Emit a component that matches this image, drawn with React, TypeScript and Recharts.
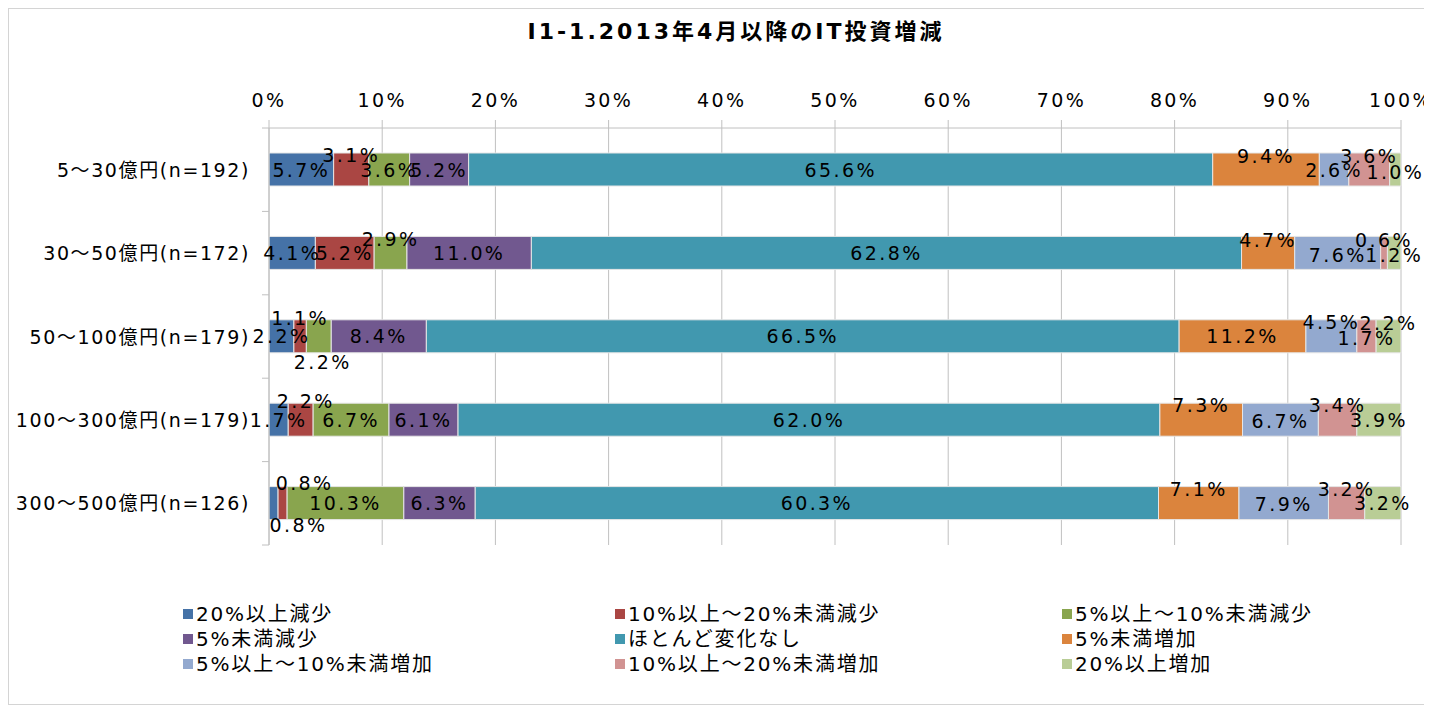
import React from 'react';
import { BarChart, Bar, XAxis, YAxis, CartesianGrid, LabelList, Legend } from 'recharts';

const categories = [
  '5〜30億円(n=192)',
  '30〜50億円(n=172)',
  '50〜100億円(n=179)',
  '100〜300億円(n=179)',
  '300〜500億円(n=126)',
];

const seriesNames = [
  '20%以上減少',
  '10%以上〜20%未満減少',
  '5%以上〜10%未満減少',
  '5%未満減少',
  'ほとんど変化なし',
  '5%未満増加',
  '5%以上〜10%未満増加',
  '10%以上〜20%未満増加',
  '20%以上増加',
];

const dec20 = [5.7, 4.1, 2.2, 1.7, 0.8];
const dec10to20 = [3.1, 5.2, 1.1, 2.2, 0.8];
const dec5to10 = [3.6, 2.9, 2.2, 6.7, 10.3];
const decUnder5 = [5.2, 11.0, 8.4, 6.1, 6.3];
const noChange = [65.6, 62.8, 66.5, 62.0, 60.3];
const incUnder5 = [9.4, 4.7, 11.2, 7.3, 7.1];
const inc5to10 = [2.6, 7.6, 4.5, 6.7, 7.9];
const inc10to20 = [3.6, 0.6, 1.7, 3.4, 3.2];
const inc20 = [1.0, 1.2, 2.2, 3.9, 3.2];

const xTicks = [0, 0.1, 0.2, 0.3, 0.4, 0.5, 0.6, 0.7, 0.8, 0.9, 1.0];

const seriesValues = [dec20, dec10to20, dec5to10, decUnder5, noChange, incUnder5, inc5to10, inc10to20, inc20];
const seriesKeys = ['s0', 's1', 's2', 's3', 's4', 's5', 's6', 's7', 's8'];

const colors = ['#4572A7', '#AA4643', '#89A54E', '#71588F', '#4198AF', '#DB843D', '#93A9CF', '#D19392', '#B9CD96'];

// label placement tweaks (layout only): vertical/horizontal offsets per series/row
const LABEL_DY = [
  [0, 0, 0, 0, 22],
  [-15, 0, -18, -19, -20],
  [0, -14, 26, 0, 0],
  [0, 0, 0, 0, 0],
  [0, 0, 0, 0, 0],
  [-14, -13, 0, -15, -14],
  [0, 2, -14, 1, 1],
  [-14, -13, 2, -15, -14],
  [2, 2, -13, 0, 0],
];
const LABEL_DX = [
  [0, 0, 0, 0, 25],
  [0, 0, 0, 5, 22],
  [0, 0, 4, 0, 0],
  [0, 0, 0, 0, 0],
  [0, 0, 0, 0, 0],
  [0, 0, 0, 0, 0],
  [0, 0, 0, 0, 0],
  [0, 0, 0, 0, 0],
  [0, 0, 0, 0, 0],
];

const data = categories.map((name, i) => {
  const row: Record<string, any> = { name };
  seriesKeys.forEach((k, si) => {
    row[k] = seriesValues[si][i];
  });
  return row;
});

const FONT = "'DejaVu Sans', 'Noto Sans CJK JP', sans-serif";
const W = 1424;
const H = 697;
const MARGIN = { top: 90, right: 31, bottom: 160, left: 21 };
const Y_WIDTH = 240;
const Y_TICK_SIZE = 7;
const Y_TICK_MARGIN = 12;
const GRID = '#c0c0c0';

const XTick = (props: any) => {
  const { x, y, payload } = props;
  return (
    <text x={x} y={y} textAnchor="middle" fontSize={19} fontFamily={FONT} fill="#000" letterSpacing={2.4}>
      {Math.round(payload.value * 100) + '%'}
    </text>
  );
};

const YTick = (props: any) => {
  const { x, y, payload, index } = props;
  const axisX = x + Y_TICK_SIZE + Y_TICK_MARGIN;
  const plotH = H - MARGIN.top - 30 - MARGIN.bottom;
  const half = payload && typeof payload.offset === 'number' && payload.offset > 0 ? payload.offset : plotH / categories.length / 2;
  return (
    <g>
      <line x1={axisX - Y_TICK_SIZE} x2={axisX} y1={y - half} y2={y - half} stroke={GRID} strokeWidth={1} />
      {index === categories.length - 1 && (
        <line x1={axisX - Y_TICK_SIZE} x2={axisX} y1={y + half} y2={y + half} stroke={GRID} strokeWidth={1} />
      )}
      <text x={x} y={y} textAnchor="end" dominantBaseline="central" fontSize={19} fontFamily={FONT} fill="#000" letterSpacing={1.6}>
        {payload.value}
      </text>
    </g>
  );
};

const makeLabel = (si: number) => (props: any) => {
  const { x, y, width, height, value, index } = props;
  if (value == null) return null;
  const cx = Number(x) + Number(width) / 2 + (LABEL_DX[si][index] || 0);
  const cy = Number(y) + Number(height) / 2 + (LABEL_DY[si][index] || 0);
  return (
    <text x={cx} y={cy} textAnchor="middle" dominantBaseline="central" fontSize={19} fontFamily={FONT} fill="#000" letterSpacing={2.4}>
      {Number(value).toFixed(1) + '%'}
    </text>
  );
};

const legendCols = [175, 607, 1054];
const legendRows = [596, 621, 646];

const renderLegend = () => (
  <div style={{ position: 'relative', width: 0, height: 0 }}>
    {seriesNames.map((n, i) => (
      <div
        key={n}
        style={{
          position: 'absolute',
          left: legendCols[i % 3],
          top: legendRows[Math.floor(i / 3)],
          display: 'flex',
          alignItems: 'center',
          whiteSpace: 'nowrap',
          fontFamily: FONT,
          fontSize: 20,
          letterSpacing: 1.8,
          color: '#000',
          lineHeight: '20px',
        }}
      >
        <span style={{ display: 'inline-block', width: 10, height: 10, background: colors[i], marginRight: 3 }} />
        <span>{n}</span>
      </div>
    ))}
  </div>
);

export default function App() {
  return (
    <div style={{ position: 'relative', width: W, height: H, fontFamily: FONT, background: '#fff' }}>
      <div
        style={{
          position: 'absolute',
          left: 0,
          top: 0,
          width: W,
          height: H,
          border: '1px solid #d4d4d4',
          borderRight: 'none',
          boxSizing: 'border-box',
        }}
      />
      <div
        style={{
          position: 'absolute',
          left: 736 - 8 - 400,
          width: 800,
          top: 11,
          textAlign: 'center',
          fontSize: 22,
          fontWeight: 'bold',
          letterSpacing: 3,
          lineHeight: '26px',
          color: '#000',
          fontFamily: FONT,
        }}
      >
        I1-1.2013年4月以降のIT投資増減
      </div>
      <div style={{ position: 'absolute', left: 0, top: 0 }}>
        <BarChart width={W} height={H} data={data} layout="vertical" stackOffset="expand" margin={MARGIN} barSize={33}>
          <CartesianGrid horizontal={false} vertical={true} stroke={GRID} strokeWidth={1} />
          <XAxis
            type="number"
            orientation="top"
            domain={[0, 1]}
            ticks={xTicks}
            height={30}
            tickSize={8}
            tickMargin={13}
            stroke={GRID}
            tickLine={{ stroke: GRID }}
            axisLine={{ stroke: GRID }}
            tick={<XTick />}
            interval={0}
          />
          <YAxis
            type="category"
            dataKey="name"
            width={Y_WIDTH}
            tickSize={Y_TICK_SIZE}
            tickMargin={Y_TICK_MARGIN}
            tickLine={false}
            axisLine={{ stroke: GRID }}
            tick={<YTick />}
            interval={0}
          />
          <Legend
            content={renderLegend}
            wrapperStyle={{ position: 'absolute', left: 0, top: 0, width: 0, height: 0 }}
          />
          {seriesKeys.map((k, si) => (
            <Bar
              key={k}
              dataKey={k}
              name={seriesNames[si]}
              stackId="a"
              fill={colors[si]}
              stroke="#e6e6e6"
              strokeWidth={1}
              isAnimationActive={false}
            >
              <LabelList dataKey={k} content={makeLabel(si)} />
            </Bar>
          ))}
        </BarChart>
      </div>
    </div>
  );
}
